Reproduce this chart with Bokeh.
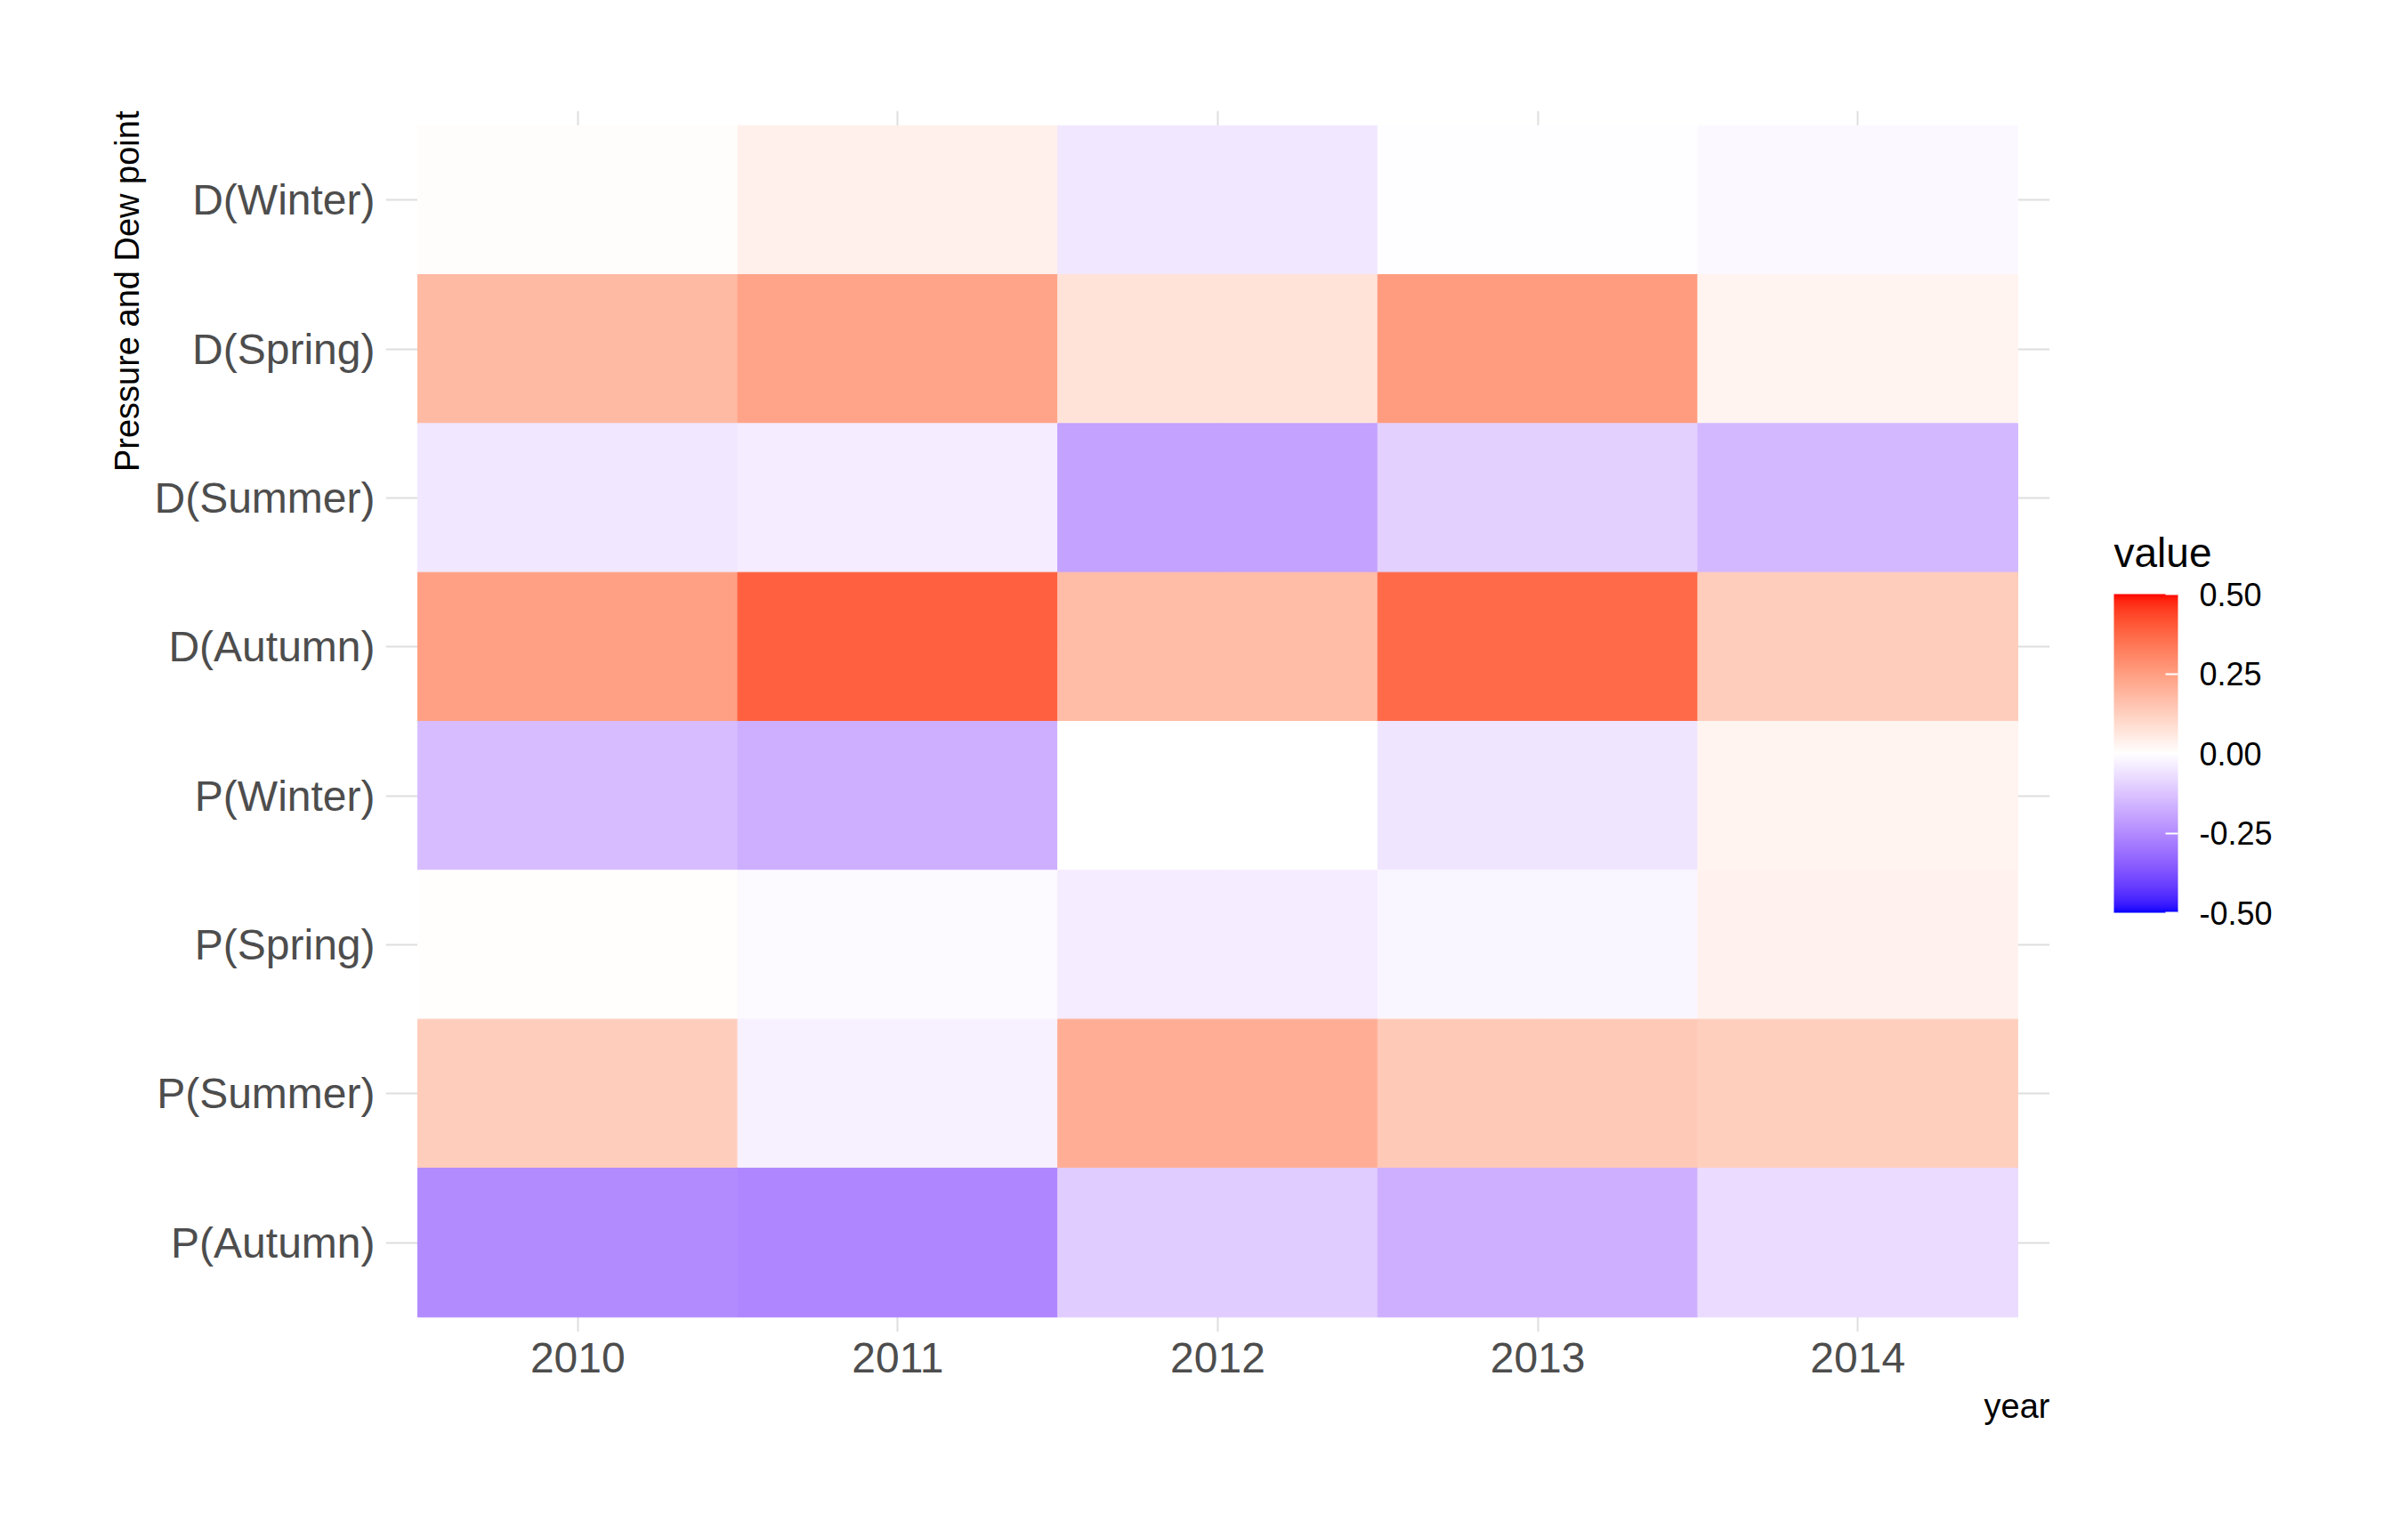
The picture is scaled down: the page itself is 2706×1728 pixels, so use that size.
import numpy as np
from bokeh.plotting import figure
from bokeh.models import (FactorRange, LinearColorMapper, ColorBar, FixedTicker,
                          PrintfTickFormatter, Title, ColumnDataSource, Label)
from bokeh.transform import transform
from bokeh.embed import file_html
from bokeh.resources import INLINE

# ---------------- data ----------------
years = ["2010", "2011", "2012", "2013", "2014"]
categories = ["D(Winter)", "D(Spring)", "D(Summer)", "D(Autumn)",
              "P(Winter)", "P(Spring)", "P(Summer)", "P(Autumn)"]

d_winter = [0.005, 0.04, -0.05, -0.003, -0.015]
d_spring = [0.18, 0.235, 0.075, 0.255, 0.03]
d_summer = [-0.05, -0.04, -0.20, -0.10, -0.15]
d_autumn = [0.245, 0.39, 0.17, 0.37, 0.13]
p_winter = [-0.14, -0.17, 0.0, -0.055, 0.03]
p_spring = [0.003, -0.012, -0.04, -0.02, 0.033]
p_summer = [0.13, -0.03, 0.21, 0.14, 0.125]
p_autumn = [-0.25, -0.26, -0.11, -0.17, -0.075]

rows = [d_winter, d_spring, d_summer, d_autumn, p_winter, p_spring, p_summer, p_autumn]
legend_ticks = [-0.5, -0.25, 0.0, 0.25, 0.5]

# ---------------- colour ramp (Lab interpolation blue-white-red) ----------------
M = np.array([[0.4124564, 0.3575761, 0.1804375],
              [0.2126729, 0.7151522, 0.0721750],
              [0.0193339, 0.1191920, 0.9503041]])
WP = np.array([0.95047, 1.0, 1.08883])


def hex_to_lab(h):
    rgb = np.array([int(h[i:i + 2], 16) for i in (1, 3, 5)]) / 255.0
    lin = np.where(rgb <= 0.04045, rgb / 12.92, ((rgb + 0.055) / 1.055) ** 2.4)
    f = (M @ lin) / WP
    f = np.where(f > 216 / 24389, np.cbrt(f), (24389 / 27 * f + 16) / 116)
    return np.array([116 * f[1] - 16, 500 * (f[0] - f[1]), 200 * (f[1] - f[2])])


def lab_to_hex(lab):
    L, a, b = lab
    fy = (L + 16) / 116
    f = np.array([fy + a / 500, fy, fy - b / 200])
    xyz = np.where(f ** 3 > 216 / 24389, f ** 3, (116 * f - 16) / (24389 / 27)) * WP
    lin = np.clip(np.linalg.inv(M) @ xyz, 0, 1)
    rgb = np.where(lin <= 0.0031308, 12.92 * lin, 1.055 * lin ** (1 / 2.4) - 0.055)
    rgb = np.clip(np.round(rgb * 255), 0, 255).astype(int)
    return "#%02x%02x%02x" % tuple(rgb)


lab_low, lab_mid, lab_high = hex_to_lab("#0000ff"), hex_to_lab("#ffffff"), hex_to_lab("#ff0000")
palette = []
for s in np.linspace(-1, 1, 511):
    if s < 0:
        lab = lab_mid + (lab_low - lab_mid) * (-s)
    else:
        lab = lab_mid + (lab_high - lab_mid) * s
    palette.append(lab_to_hex(lab))

mapper = LinearColorMapper(palette=palette, low=-0.5, high=0.5)

# ---------------- source ----------------
xs, ys, vs = [], [], []
for cat, vals in zip(categories, rows):
    for yr, v in zip(years, vals):
        xs.append(yr)
        ys.append(cat)
        vs.append(v)
source = ColumnDataSource(dict(year=xs, cat=ys, value=vs))

FONT = "Liberation Sans"
FRAME_W, FRAME_H = 1870, 1372

p = figure(
    x_range=FactorRange(factors=years, range_padding=0.1, range_padding_units="absolute"),
    y_range=FactorRange(factors=categories[::-1], range_padding=0.1, range_padding_units="absolute"),
    frame_width=FRAME_W, frame_height=FRAME_H,
    min_border_left=433, min_border_top=124, min_border_bottom=220, min_border_right=390,
    output_backend="svg", toolbar_location=None,
    background_fill_color="white", border_fill_color="white",
)
p.outline_line_color = None

p.rect(x="year", y="cat", width=1, height=1, source=source,
       fill_color=transform("value", mapper), line_color=transform("value", mapper),
       line_width=1)

for g in (p.xgrid, p.ygrid):
    g.grid_line_color = "#DEDEDE"
    g.grid_line_width = 2

for ax in (p.xaxis, p.yaxis):
    ax.axis_line_color = None
    ax.major_tick_line_color = None
    ax.minor_tick_line_color = None
    ax.major_tick_out = 0
    ax.major_tick_in = 0
    ax.major_label_text_font = FONT
    ax.major_label_text_font_size = "48px"
    ax.major_label_text_color = "#4D4D4D"
p.yaxis.major_label_standoff = 12
p.xaxis.major_label_standoff = 12

ytitle = Title(text="Pressure and Dew point", align="right", text_font=FONT,
               text_font_size="38px", text_font_style="normal", text_color="black",
               standoff=13)
p.add_layout(ytitle, "left")
xtitle = Title(text="year", align="right", text_font=FONT,
               text_font_size="38px", text_font_style="normal", text_color="black",
               standoff=25)
p.add_layout(xtitle, "below")

cb = ColorBar(
    color_mapper=mapper, ticker=FixedTicker(ticks=legend_ticks),
    formatter=PrintfTickFormatter(format="%.2f"),
    width=72, height=358, location=(1932, 461),
    major_label_text_font=FONT, major_label_text_font_size="36px",
    major_label_text_color="black", label_standoff=24,
    major_tick_in=14, major_tick_out=0, major_tick_line_color="white",
    major_tick_line_width=2, minor_tick_line_color=None,
    bar_line_color=None, border_line_color=None, background_fill_color=None,
    margin=0, padding=10,
)
p.add_layout(cb, "center")

legend_title = Label(x=72, y=876, x_units="screen", y_units="screen", text="value",
                     text_font=FONT, text_font_size="46px", text_color="black",
                     text_baseline="alphabetic", text_align="left")
p.add_layout(legend_title, "right")

open("out.html", "w").write(file_html(p, INLINE))
